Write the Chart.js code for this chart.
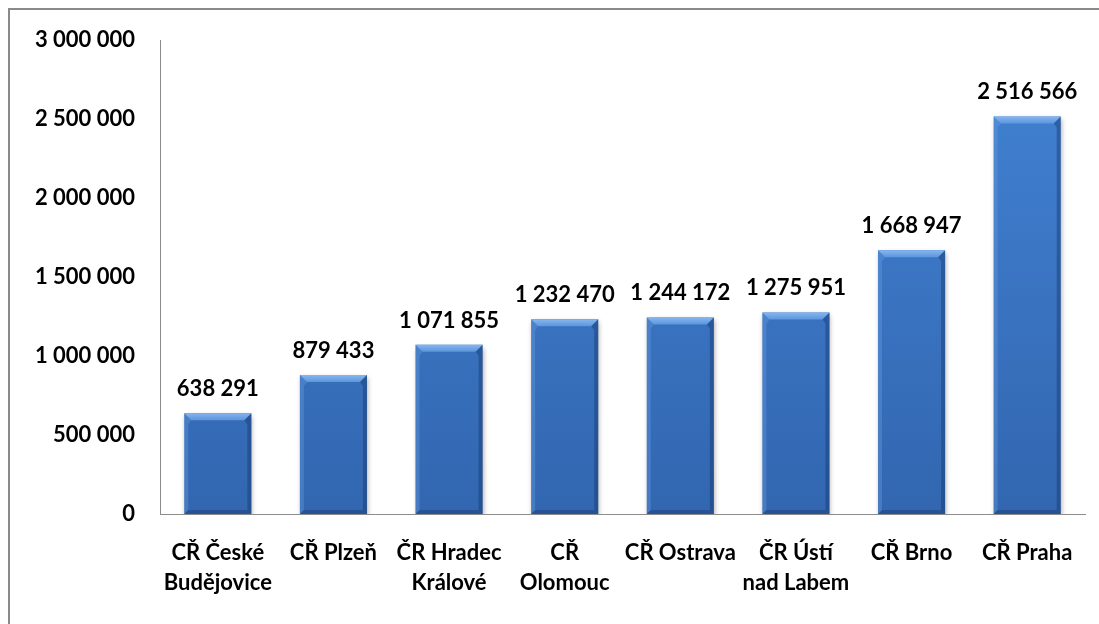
<!DOCTYPE html>
<html>
<head>
<meta charset="utf-8">
<script src="https://cdn.jsdelivr.net/npm/chart.js@4/dist/chart.umd.min.js"></script>
<style>
  html, body { margin: 0; padding: 0; background: #fff; }
  #wrap { position: relative; width: 1099px; height: 624px; overflow: hidden; }
  #frame {
    position: absolute; left: 8px; top: 8px; width: 1200px; height: 700px;
    border-top: 2px solid #8a8a8a; border-left: 2px solid #8a8a8a;
    pointer-events: none;
  }
  canvas { position: absolute; left: 0; top: 0; }
</style>
</head>
<body>
<div id="wrap">
  <canvas id="chart" width="1099" height="624"></canvas>
  <div id="frame"></div>
</div>
<script>
(function () {
  'use strict';

  var categories = [
    ['CŘ České', 'Budějovice'],
    'CŘ Plzeň',
    ['ČR Hradec', 'Králové'],
    ['CŘ', 'Olomouc'],
    'CŘ Ostrava',
    ['ČR Ústí', 'nad Labem'],
    'CŘ Brno',
    'CŘ Praha'
  ];
  var values = [638291, 879433, 1071855, 1232470, 1244172, 1275951, 1668947, 2516566];
  var yTicks = [0, 500000, 1000000, 1500000, 2000000, 2500000, 3000000];

  var FONT = 'Lato, "Open Sans", sans-serif';

  function fmt(n) {
    return String(Math.round(n)).replace(/\B(?=(\d{3})+(?!\d))/g, ' ');
  }

  // soft shadow under the bars
  var shadowPlugin = {
    id: 'barShadow',
    beforeDatasetsDraw: function (chart) {
      var ctx = chart.ctx;
      ctx.save();
      ctx.shadowColor = 'rgba(0,0,0,0.35)';
      ctx.shadowBlur = 5;
      ctx.shadowOffsetX = 1;
      ctx.shadowOffsetY = 3;
    },
    afterDatasetsDraw: function (chart) {
      chart.ctx.restore();
    }
  };

  function quad(ctx, pts, fill) {
    ctx.beginPath();
    ctx.moveTo(pts[0], pts[1]);
    for (var k = 2; k < pts.length; k += 2) {
      ctx.lineTo(pts[k], pts[k + 1]);
    }
    ctx.closePath();
    ctx.fillStyle = fill;
    ctx.fill();
  }

  // bevel edges + value labels
  var bevelPlugin = {
    id: 'bevel',
    afterDatasetsDraw: function (chart) {
      var ctx = chart.ctx;
      var meta = chart.getDatasetMeta(0);
      meta.data.forEach(function (bar, i) {
        var p = bar.getProps(['x', 'y', 'base', 'width'], true);
        var l = p.x - p.width / 2, r = p.x + p.width / 2;
        var t = p.y, b = p.base;
        var tb = 7, sb = 4;
        ctx.save();
        var g = ctx.createLinearGradient(0, t, 0, t + tb);
        g.addColorStop(0, '#86b6ee');
        g.addColorStop(1, '#5c96de');
        quad(ctx, [l, t, r, t, r - tb, t + tb, l + tb, t + tb], g);
        quad(ctx, [l, t, l + tb, t + tb, l + sb, t + tb + 4, l + sb, b - sb, l, b], 'rgba(110,160,225,0.35)');
        quad(ctx, [r, t, r - tb, t + tb, r - sb, t + tb + 4, r - sb, b - sb, r, b], 'rgba(20,50,100,0.4)');
        quad(ctx, [l, b, l + sb, b - sb, r - sb, b - sb, r, b], 'rgba(20,50,100,0.35)');
        ctx.fillStyle = '#000';
        ctx.font = 'bold 22px ' + FONT;
        ctx.textAlign = 'center';
        ctx.textBaseline = 'alphabetic';
        ctx.fillText(fmt(values[i]), p.x, t - 17);
        ctx.restore();
      });
    }
  };

  var ctx = document.getElementById('chart').getContext('2d');
  new Chart(ctx, {
    type: 'bar',
    data: {
      labels: categories,
      datasets: [
        {
          data: values,
          backgroundColor: function (c) {
            var area = c.chart.chartArea;
            if (!area) {
              return '#3a77c6';
            }
            var g = c.chart.ctx.createLinearGradient(0, area.top, 0, area.bottom);
            g.addColorStop(0, '#4283d4');
            g.addColorStop(1, '#3266b0');
            return g;
          },
          borderWidth: 0,
          barPercentage: 0.58,
          categoryPercentage: 1
        }
      ]
    },
    options: {
      responsive: false,
      animation: false,
      layout: { padding: { top: 40, right: 14, left: 0, bottom: 0 } },
      plugins: {
        legend: { display: false },
        tooltip: { enabled: false }
      },
      scales: {
        x: {
          grid: { display: false, drawTicks: false },
          border: { display: true, color: '#8c8c8c', width: 1 },
          ticks: {
            color: '#000',
            font: { family: FONT, size: 22, weight: 'bold', lineHeight: 1.35 },
            padding: 24,
            maxRotation: 0,
            autoSkip: false
          },
          afterFit: function (scale) { scale.height = 110; }
        },
        y: {
          min: 0,
          max: 3000000,
          afterBuildTicks: function (scale) {
            scale.ticks = yTicks.map(function (v) { return { value: v }; });
          },
          grid: { display: false, drawTicks: false },
          border: { display: true, color: '#8c8c8c', width: 1 },
          ticks: {
            color: '#000',
            font: { family: FONT, size: 22, weight: 'bold' },
            padding: 25,
            callback: function (v) { return fmt(v); }
          },
          afterFit: function (scale) { scale.width = 160; }
        }
      }
    },
    plugins: [shadowPlugin, bevelPlugin]
  });
})();
</script>
</body>
</html>
